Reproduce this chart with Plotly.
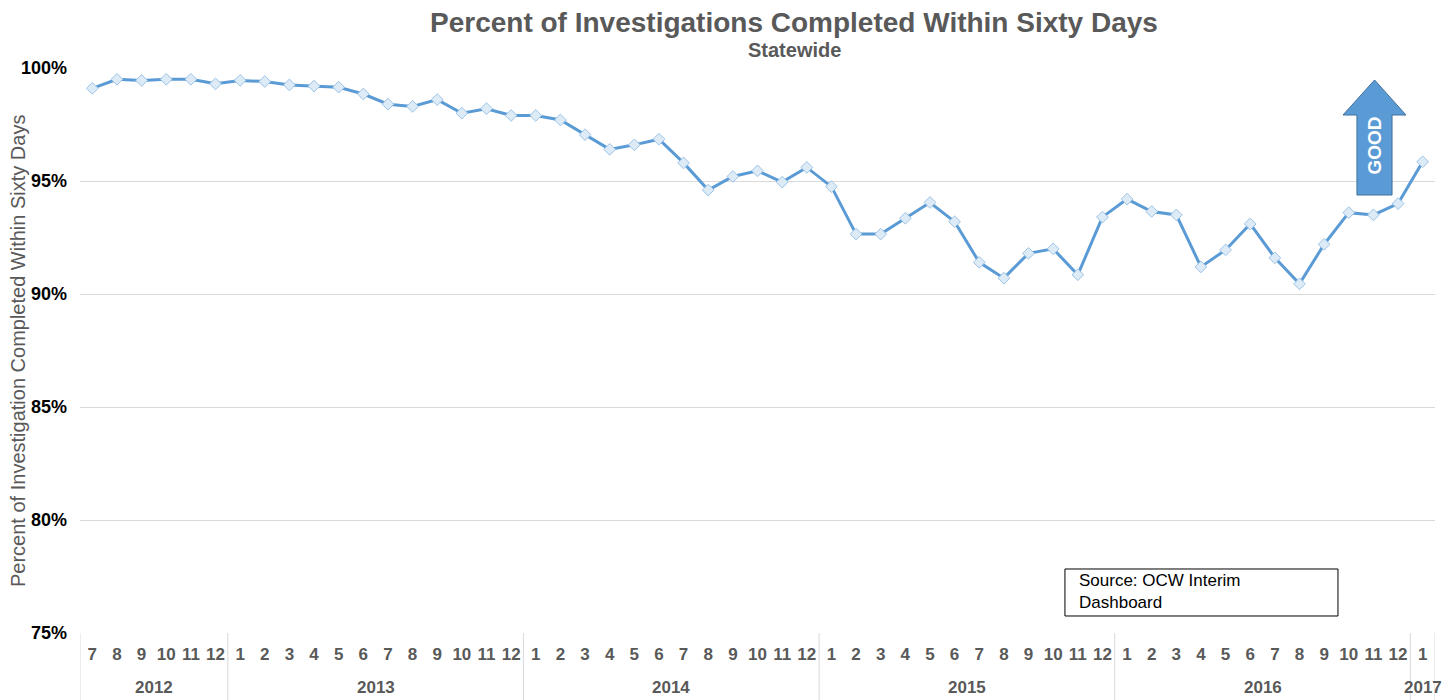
import plotly.graph_objects as go

years = ["2012", "2013", "2014", "2015", "2016", "2017"]
months_per_year = [6, 12, 12, 12, 12, 1]
months = [str(m) for m in range(7, 13)] + [str(m) for m in range(1, 13)] * 4 + ["1"]

pct_2012 = [99.1, 99.5, 99.45, 99.5, 99.5, 99.3]
pct_2013 = [99.45, 99.4, 99.25, 99.2, 99.15, 98.85, 98.4, 98.3, 98.6, 98.0, 98.2, 97.9]
pct_2014 = [97.9, 97.7, 97.05, 96.4, 96.6, 96.85, 95.8, 94.6, 95.2, 95.45, 94.95, 95.6]
pct_2015 = [94.75, 92.65, 92.65, 93.35, 94.05, 93.2, 91.4, 90.7, 91.8, 92.0, 90.85, 93.4]
pct_2016 = [94.2, 93.65, 93.5, 91.2, 91.95, 93.1, 91.6, 90.45, 92.2, 93.6, 93.5, 94.0]
pct_2017 = [95.85]
values = pct_2012 + pct_2013 + pct_2014 + pct_2015 + pct_2016 + pct_2017

y_ticks = [75, 80, 85, 90, 95, 100]
y_tick_labels = [f"{v}%" for v in y_ticks]

idx = list(range(len(values)))

fig = go.Figure()
fig.add_trace(go.Scatter(
    x=idx, y=values, mode="lines+markers",
    line=dict(color="#5B9BD5", width=3),
    marker=dict(symbol="diamond", size=9, color="#DDEBF7",
                line=dict(color="#9DC3E6", width=1)),
    showlegend=False, cliponaxis=False, hoverinfo="skip",
))

font = "Liberation Sans, Arial, sans-serif"
fig.update_layout(
    width=1456, height=700,
    margin=dict(l=80, r=21, t=68, b=67, autoexpand=False),
    plot_bgcolor="white", paper_bgcolor="white",
    font=dict(family=font, color="#595959"),
    xaxis=dict(
        range=[-0.5, len(values) - 0.5], tickvals=idx, ticktext=months,
        tickangle=0, showgrid=False, zeroline=False, showline=False,
        tickfont=dict(size=17, color="#595959", family=font, weight="bold"),
        ticks="", ticklabelstandoff=9, automargin=False,
    ),
    yaxis=dict(
        range=[75, 100], tickvals=y_ticks, ticktext=y_tick_labels,
        showgrid=True, gridcolor="#D9D9D9", gridwidth=1, zeroline=False,
        tickfont=dict(size=18, color="#000000", family=font, weight="bold"),
        ticks="", automargin=False, ticklabelstandoff=12,
    ),
)

def ann(text, x, y, size, color="#595959", xref="paper", **kw):
    fig.add_annotation(text=text, x=x, y=y, xref=xref, yref="paper", showarrow=False,
                       xanchor=kw.pop("xanchor", "center"), yanchor=kw.pop("yanchor", "middle"),
                       font=dict(size=size, color=color, family=font), **kw)

# Titles
ann("<b>Percent of Investigations Completed Within Sixty Days</b>", 0.527, 1.0814, 28)
ann("<b>Statewide</b>", 0.527, 1.0319, 20)
ann("Percent of Investigation Completed Within Sixty Days", -0.0458, 0.499, 20, textangle=-90)

# Year group labels and dividers
start = 0
bounds = [-0.5]
for yr, n in zip(years, months_per_year):
    center = start + (n - 1) / 2
    ann(f"<b>{yr}</b>", center, -0.0973, 17, xref="x")
    start += n
    bounds.append(start - 0.5)
for b in bounds:
    fig.add_shape(type="line", x0=b, x1=b, y0=0, y1=-0.12, xref="x", yref="paper",
                  line=dict(color="#D9D9D9", width=1))

# GOOD arrow
arrow_path = ("M 0.9424 0.7752 L 0.9683 0.7752 L 0.9683 0.9168 L 0.9786 0.9168 "
              "L 0.9554 0.9788 L 0.9321 0.9168 L 0.9424 0.9168 Z")
fig.add_shape(type="path", path=arrow_path, xref="paper", yref="paper",
              fillcolor="#5B9BD5", line=dict(color="#41719C", width=1))
ann("<b>GOOD</b>", 0.9554, 0.862, 19, color="white", textangle=-90)

# Source box
fig.add_shape(type="rect", x0=0.7269, x1=0.9284, y0=0.0301, y1=0.1133,
              xref="paper", yref="paper", fillcolor="white",
              line=dict(color="#000000", width=1))
ann("Source: OCW Interim<br>Dashboard", 0.7358, 0.0726, 17, color="#000000",
    xanchor="left", align="left")

fig.write_html("out.html", config={"displayModeBar": False},
               post_script="document.body.style.margin='0';")
